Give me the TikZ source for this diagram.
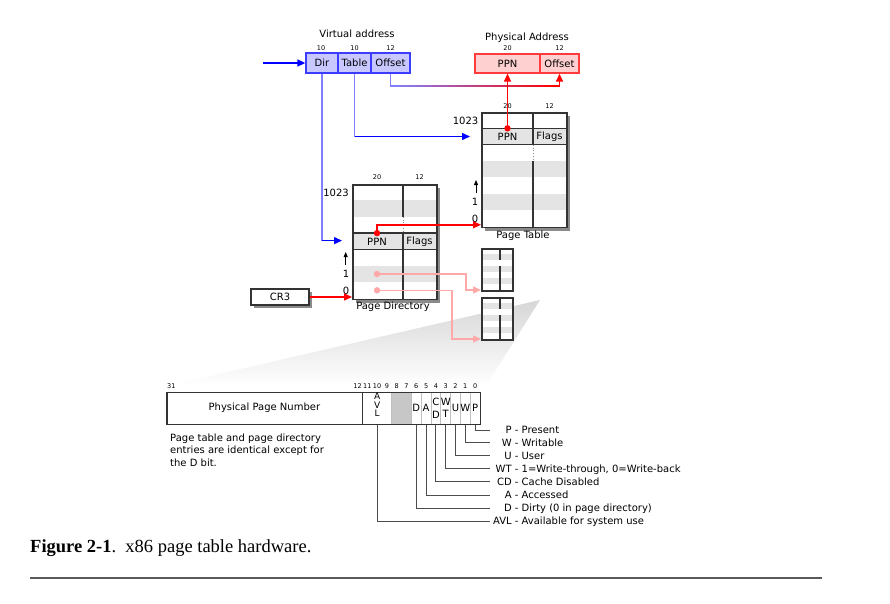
\documentclass[tikz,border=0pt]{standalone}
\usepackage{fontspec}
\setmainfont{DejaVu Sans}
\newfontfamily\capfont{Liberation Serif}
\usetikzlibrary{arrows.meta}
\definecolor{vfill}{HTML}{C8C8FF}
\definecolor{vline}{HTML}{3C3CFF}
\definecolor{vlight}{HTML}{8080FF}
\definecolor{pfill}{HTML}{FFD0D0}
\definecolor{pline}{HTML}{FF3C3C}
\definecolor{stripe}{HTML}{E4E4E4}
\definecolor{pinkc}{HTML}{FFA8A8}
\definecolor{boxline}{HTML}{333333}
\definecolor{shadowc}{HTML}{8A8A8A}
\newcommand\abr[1]{\makebox[19.5pt][r]{#1}}
\begin{document}
\begin{tikzpicture}[x=1pt,y=-1pt,
  font=\fontsize{10}{12}\selectfont,
  txt/.style={inner sep=0},
  tiny/.style={inner sep=0, font=\fontsize{6.5}{7.5}\selectfont},
  vcell/.style={draw=vline, fill=vfill, line width=1.3, minimum height=20, inner sep=0},
  pcell/.style={draw=pline, fill=pfill, line width=1.3, minimum height=19, inner sep=0},
  tbl/.style={draw=boxline, line width=1.6, inner sep=0, anchor=north west},
  tip/.style={-{Triangle[length=8pt,width=7pt]}},
  smalltip/.style={-{Triangle[length=5pt,width=4pt]}},
  conn/.style={line width=1.4},
  leader/.style={draw=black!70, line width=0.9},
  leg/.style={inner xsep=2pt, inner ysep=0, text height=7.3pt, text depth=0pt, anchor=base west},
  ]
\useasboundingbox (0,0) rectangle (890,603);

% projection wedge
\shade[top color=black!16, bottom color=white] (540,300) -- (486,386) -- (167,386) -- cycle;

% ---------- Virtual address ----------
\node[txt] (vtitle) at (357,34) {Virtual address};
\node[tiny] (vb1) at (321,48) {10};
\node[tiny] (vb2) at (354.5,48) {10};
\node[tiny] (vb3) at (390.5,48) {12};
\node[vcell, minimum width=32] (vdir) at (322,63) {Dir};
\node[vcell, minimum width=33] (vtab) at (354.5,63) {Table};
\node[vcell, minimum width=39] (voff) at (390.5,63) {Offset};

% ---------- Physical address ----------
\node[txt] (ptitle) at (527,37.5) {Physical Address};
\node[tiny] (pb1) at (507.5,48) {20};
\node[tiny] (pb2) at (559.5,48) {12};
\node[pcell, minimum width=65] (pppn) at (507.5,63.5) {PPN};
\node[pcell, minimum width=39] (poff) at (559.5,63.5) {Offset};

% ---------- Page table ----------
\fill[shadowc] (485,116) rectangle (570,230.5);
\fill[white] (481,112) rectangle (566,226.5);
\foreach \k in {1,3,5} \fill[stripe] (481,{112+\k*16.357}) rectangle (566,{112+(\k+1)*16.357});
\draw[boxline, line width=1.4] (481,128.36) -- (566,128.36) (481,144.71) -- (566,144.71);
\draw[boxline, line width=1.4] (533,112) -- (533,144.71) (533,161.07) -- (533,226.5);
\draw[black!45, line width=0.8, dotted] (533,144.71) -- (533,161.07);
\node[tbl, minimum width=85, minimum height=114.5] (pt) at (481,112) {};
\node[tiny] (ptb1) at (507.5,106) {20};
\node[tiny] (ptb2) at (549.5,106) {12};
\node[txt] (ptppn) at (507.5,137) {PPN};
\node[txt] (ptflags) at (549.5,137) {Flags};
\node[txt, anchor=east] (pt1023) at (478.5,121) {1023};
\node[txt, anchor=east] (pt1) at (478.5,202) {1};
\node[txt, anchor=east] (pt0) at (478.5,218.5) {0};
\coordinate (ptup0) at (476,193);
\coordinate (ptup1) at (476,180);
\draw[smalltip, line width=0.8] (ptup0) -- (ptup1);
\node[txt] (ptlabel) at (523,236) {Page Table};

% ---------- Page directory ----------
\fill[shadowc] (356,188) rectangle (440,302.5);
\fill[white] (352,184) rectangle (436,298.5);
\foreach \k in {1,3,5} \fill[stripe] (352,{184+\k*16.357}) rectangle (436,{184+(\k+1)*16.357});
\draw[boxline, line width=1.4] (352,233.07) -- (436,233.07) (352,249.43) -- (436,249.43);
\draw[boxline, line width=1.4] (403,184) -- (403,216.71) (403,233.07) -- (403,298.5);
\draw[black!45, line width=0.8, dotted] (403,216.71) -- (403,233.07);
\node[tbl, minimum width=84, minimum height=114.5] (pd) at (352,184) {};
\node[tiny] (pdb1) at (377,177.5) {20};
\node[tiny] (pdb2) at (419.5,177.5) {12};
\node[txt] (pdppn) at (377,241.5) {PPN};
\node[txt] (pdflags) at (419.5,241.5) {Flags};
\node[txt, anchor=east] (pd1023) at (349,192.5) {1023};
\node[txt, anchor=east] (pd1) at (349.5,274) {1};
\node[txt, anchor=east] (pd0) at (349.5,290.5) {0};
\coordinate (pdup0) at (345.7,265);
\coordinate (pdup1) at (345.7,252);
\draw[smalltip, line width=0.8] (pdup0) -- (pdup1);
\node[txt] (pdlabel) at (393,307) {Page Directory};

% ---------- small page tables ----------
\foreach \t in {248,297}{
  \fill[white] (481,\t) rectangle (512,{\t+42});
  \foreach \k in {1,3,5} \fill[stripe] (481,{\t+\k*6}) rectangle (512,{\t+\k*6+6});
  \draw[boxline, line width=1.2] (500,\t) -- (500,{\t+12}) (500,{\t+18}) -- (500,{\t+42});
}
\node[tbl, minimum width=31, minimum height=42] (sb1) at (481,248) {};
\node[tbl, minimum width=31, minimum height=42] (sb2) at (481,297) {};

% ---------- CR3 ----------
\fill[shadowc] (254,292) rectangle (312,308);
\node[draw=boxline, fill=white, line width=1.3, minimum width=58, minimum height=16, inner sep=0] (cr3) at (280,297) {CR3};

% ---------- connectors ----------
\coordinate (vin) at (263,63);
\draw[conn, blue, tip] (vin) -- (vdir.west);
% Dir -> page directory
\coordinate (pdin) at (342,240.6);
\draw[conn, vlight] (vdir.south) -- (vdir.south |- pdin);
\draw[conn, blue, tip] (vdir.south |- pdin) -- (pdin);
% Table -> page table
\coordinate (ptin) at (470,136.5);
\draw[conn, vlight] (vtab.south) -- (vtab.south |- ptin);
\draw[conn, blue, tip] (vtab.south |- ptin) -- (ptin);
% Offset -> Offset
\coordinate (offA) at (390.5,86);
\coordinate (offB) at (559.5,86);
\draw[conn, vlight] (voff.south) -- (offA);
\foreach \i [evaluate=\i as \p using 100*\i/19] in {0,...,19}
  \draw[conn, draw=red!\p!vlight] ({390.5+\i*8.45-0.3},86) -- ({390.5+(\i+1)*8.45+0.3},86);
\draw[conn, red, tip] (offB) -- (poff.south);
% PT PPN -> physical PPN
\coordinate (ptdot) at (507.5,128.36);
\fill[red] (ptdot) circle (3.2);
\draw[conn, red, tip] (ptdot) -- (pppn.south);
% PD PPN -> page table
\coordinate (pddot) at (377,233.07);
\coordinate (ptentry) at (481,224.8);
\fill[red] (pddot) circle (3.2);
\draw[conn, red, tip] (pddot) |- (ptentry);
% CR3 -> PD
\draw[conn, red, tip] (cr3.east) -- (pd.west |- cr3.east);
% pink pointers
\coordinate (pdrow1) at (377,274);
\coordinate (pdrow0) at (377,290.3);
\coordinate (sb1in) at (481,290);
\coordinate (sb2in) at (481,339);
\fill[pinkc] (pdrow1) circle (3.2);
\fill[pinkc] (pdrow0) circle (3.2);
\draw[conn, pinkc, tip] (pdrow1) -- (466,274) |- (sb1in);
\draw[conn, pinkc, tip] (pdrow0) -- (452,290.3) |- (sb2in);

% ---------- entry format ----------
\fill[white] (166.4,392) rectangle (480,424);
\fill[black!22] (391.8,392) rectangle (411.4,424);
\foreach \i in {1,...,7,9} \draw[black!25, line width=0.7] ({480-9.8*\i},392) -- ({480-9.8*\i},424);
\draw[boxline, line width=1.2] (362.4,392) -- (362.4,424);
\node[draw=boxline, line width=1.4, minimum width=313.6, minimum height=32, inner sep=0, anchor=north west] (entry) at (166.4,392) {};
\node[tiny] (bit31) at (171.3,386) {31};
\foreach \i in {0,...,12} \node[tiny] (bit\i) at ({480-9.8*(\i+0.5)},386) {\i};
\node[txt] (ppnfield) at (264.4,408) {Physical Page Number};
\node[txt, align=center, font=\fontsize{9}{8.7}\selectfont] (bAVL) at (377.1,405) {A\\V\\L};
\node[txt] (bD) at (416.3,408) {D};
\node[txt] (bA) at (426.1,408) {A};
\node[txt, align=center, font=\fontsize{10}{13}\selectfont] (bCD) at (435.9,408) {C\\D};
\node[txt, align=center, font=\fontsize{10}{12}\selectfont] (bWT) at (445.7,407.5) {W\\T};
\node[txt] (bU) at (455.5,408) {U};
\node[txt] (bW) at (465.3,408) {W};
\node[txt] (bP) at (475.1,408) {P};

% legend
\node[leg] (lP) at (490,433.65) {\abr{P} - Present};
\node[leg] (lW) at (490,446.45) {\abr{W} - Writable};
\node[leg] (lU) at (490,459.45) {\abr{U} - User};
\node[leg] (lWT) at (490,472.25) {\abr{WT} - 1=Write-through, 0=Write-back};
\node[leg] (lCD) at (490,485.45) {\abr{CD} - Cache Disabled};
\node[leg] (lA) at (490,498.65) {\abr{A} - Accessed};
\node[leg] (lD) at (490,511.65) {\abr{D} - Dirty (0 in page directory)};
\node[leg] (lAVL) at (490,524.65) {\abr{AVL} - Available for system use};
\draw[leader] (bP |- entry.south) |- (lP.west);
\draw[leader] (bW |- entry.south) |- (lW.west);
\draw[leader] (bU |- entry.south) |- (lU.west);
\draw[leader] (bWT |- entry.south) |- (lWT.west);
\draw[leader] (bCD |- entry.south) |- (lCD.west);
\draw[leader] (bA |- entry.south) |- (lA.west);
\draw[leader] (bD |- entry.south) |- (lD.west);
\draw[leader] (bAVL |- entry.south) |- (lAVL.west);

\node[txt, align=left, anchor=north west, font=\fontsize{10}{12.5}\selectfont] (note) at (170,433.5)
  {Page table and page directory\\entries are identical except for\\the D bit.};

% ---------- caption ----------
\node[inner sep=0, anchor=base west, font=\capfont\fontsize{18.5}{21}\selectfont] (cap) at (30,552)
  {\textbf{Figure 2-1}.\ \ x86 page table hardware.};
\draw[black!65, line width=1.3] (30,578) -- (822,578);
\end{tikzpicture}
\end{document}
